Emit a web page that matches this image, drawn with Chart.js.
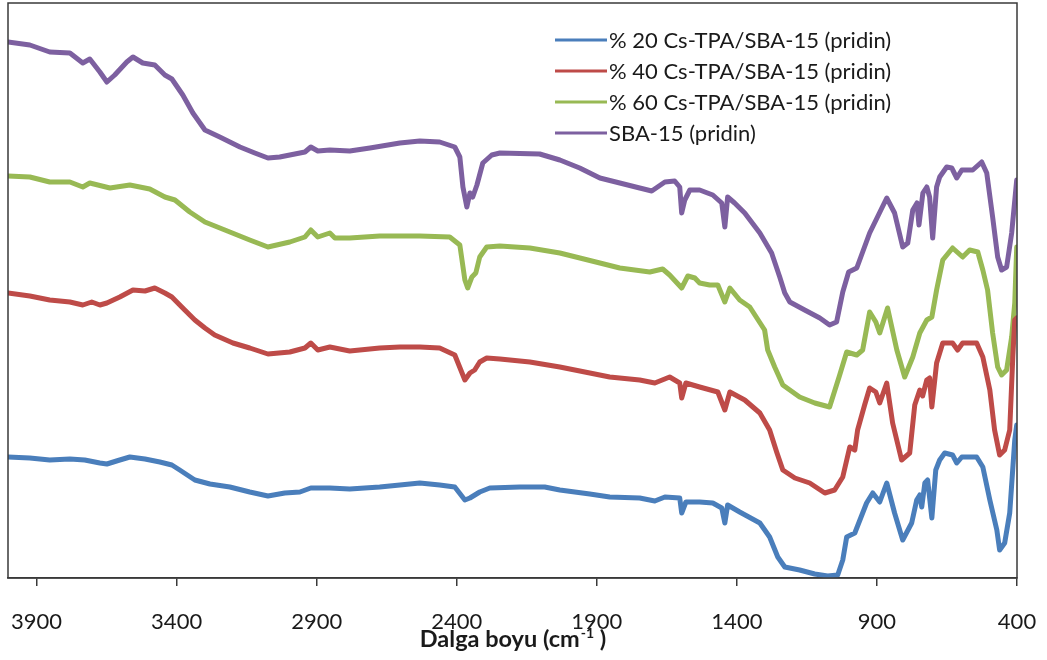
<!DOCTYPE html>
<html>
<head>
<meta charset="utf-8">
<script src="https://cdn.jsdelivr.net/npm/chart.js@4"></script>
<style>
  html, body { margin: 0; padding: 0; background: #fff; }
</style>
</head>
<body>
<canvas id="ftir" width="1047" height="660"></canvas>
<script>
// wavenumber (cm-1) ticks along the reversed x axis
const xTicks = [3900, 3400, 2900, 2400, 1900, 1400, 900, 400];

const seriesLabels = [
  '% 20 Cs-TPA/SBA-15 (pridin)',
  '% 40 Cs-TPA/SBA-15 (pridin)',
  '% 60 Cs-TPA/SBA-15 (pridin)',
  'SBA-15 (pridin)'
];
const seriesColors = ['#4A7EBB', '#BE4B48', '#98B954', '#7D60A0'];

// [wavenumber, transmittance (a.u., stacked)]
const cs20 = [[4002,24.2],[3924,24.0],[3853,23.6],[3781,23.8],[3728,23.6],[3674,23.0],[3649,22.8],[3603,23.6],[3567,24.2],[3513,23.8],[3460,23.2],[3417,22.6],[3389,21.6],[3335,19.6],[3281,18.8],[3210,18.2],[3139,17.2],[3074,16.4],[3014,17.0],[2960,17.2],[2921,18.0],[2853,18.0],[2782,17.8],[2675,18.2],[2603,18.6],[2532,19.0],[2461,18.6],[2407,18.2],[2371,15.6],[2353,16.0],[2318,17.2],[2282,18.0],[2175,18.2],[2086,18.2],[2032,17.6],[1925,16.8],[1854,16.2],[1747,16.0],[1693,15.4],[1657,16.2],[1604,16.0],[1597,13.0],[1582,15.2],[1533,15.2],[1486,15.0],[1454,14.0],[1443,11.0],[1433,14.6],[1390,13.2],[1318,11.0],[1283,8.2],[1254,4.2],[1229,2.2],[1176,1.6],[1122,0.8],[1076,0.4],[1040,0.6],[1022,3.6],[1008,8.2],[979,9.0],[937,15.0],[915,17.0],[890,15.2],[865,19.0],[837,13.0],[808,7.6],[776,11.0],[758,15.6],[747,16.6],[740,14.2],[729,19.0],[719,19.6],[704,12.0],[690,21.6],[676,23.6],[658,25.0],[630,24.6],[615,23.0],[597,24.2],[544,24.2],[522,22.2],[497,15.6],[472,9.6],[462,5.6],[444,7.0],[426,13.0],[408,27.6],[401,30.6]];

const cs40 = [[4002,57.0],[3924,56.4],[3853,55.6],[3781,55.2],[3735,54.6],[3703,55.2],[3674,54.6],[3649,55.0],[3603,56.2],[3556,57.6],[3513,57.4],[3478,58.0],[3442,57.0],[3417,56.2],[3371,53.6],[3335,51.6],[3299,50.0],[3264,48.6],[3199,47.0],[3139,46.0],[3074,44.8],[2996,45.2],[2942,46.0],[2921,47.0],[2896,45.6],[2853,46.2],[2782,45.4],[2675,46.0],[2603,46.2],[2532,46.2],[2461,46.0],[2407,44.6],[2371,39.6],[2353,41.0],[2336,41.6],[2318,43.2],[2293,44.0],[2246,43.8],[2139,43.2],[2032,42.2],[1925,41.0],[1854,40.2],[1747,39.6],[1693,39.0],[1640,40.2],[1604,39.0],[1597,36.0],[1582,39.0],[1533,38.2],[1468,37.2],[1443,33.6],[1425,37.2],[1372,35.6],[1318,33.0],[1283,29.6],[1258,25.2],[1236,21.6],[1193,20.0],[1140,19.0],[1086,17.0],[1051,17.6],[1022,20.2],[997,26.2],[979,25.6],[969,29.6],[944,34.6],[926,38.0],[904,37.2],[890,35.0],[865,39.0],[844,31.0],[812,23.6],[783,25.0],[765,34.6],[747,37.6],[737,36.4],[722,39.6],[712,40.0],[704,34.2],[687,43.0],[665,47.0],[630,47.0],[612,45.6],[594,47.0],[544,47.0],[522,44.2],[497,37.6],[480,29.6],[462,24.6],[444,25.6],[426,29.6],[415,44.2],[408,51.6],[401,52.0]];

const cs60 = [[4002,80.4],[3924,80.2],[3853,79.2],[3781,79.2],[3735,78.2],[3710,79.0],[3638,78.0],[3567,78.6],[3496,77.8],[3442,76.2],[3406,75.6],[3353,73.2],[3299,71.2],[3210,69.2],[3139,67.6],[3074,66.2],[2996,67.2],[2942,68.2],[2921,69.6],[2896,68.2],[2853,69.0],[2835,68.0],[2782,68.0],[2675,68.4],[2532,68.4],[2425,68.2],[2389,66.6],[2371,59.6],[2361,58.0],[2346,60.2],[2332,61.0],[2318,64.2],[2293,66.2],[2246,66.4],[2139,66.0],[2032,65.0],[1889,63.0],[1818,62.0],[1711,61.2],[1665,61.8],[1640,60.6],[1597,58.0],[1575,60.4],[1550,60.0],[1533,59.0],[1497,58.6],[1468,58.6],[1443,55.2],[1425,58.0],[1390,55.6],[1354,54.2],[1301,49.6],[1290,45.6],[1265,42.2],[1236,38.6],[1176,36.2],[1122,35.0],[1069,34.2],[1033,40.6],[1008,45.2],[972,44.6],[951,45.6],[926,53.2],[904,51.2],[890,49.0],[862,54.0],[829,45.6],[801,40.2],[772,44.2],[747,49.0],[722,51.6],[704,52.2],[687,57.6],[665,63.6],[630,66.0],[594,64.2],[569,65.6],[540,65.2],[522,61.6],[505,57.6],[487,49.0],[469,42.2],[455,40.6],[437,41.6],[419,48.2],[408,55.0],[401,66.2]];

const sba15 = [[4002,107.2],[3924,106.6],[3853,105.2],[3781,105.0],[3735,103.0],[3710,103.8],[3674,101.2],[3649,99.2],[3621,100.6],[3578,103.2],[3556,104.2],[3521,103.0],[3478,102.6],[3442,100.6],[3417,99.8],[3378,96.6],[3342,93.0],[3299,89.6],[3246,88.2],[3174,86.2],[3121,85.0],[3074,84.0],[3032,84.2],[2978,84.8],[2942,85.2],[2921,86.2],[2896,85.4],[2853,85.6],[2782,85.4],[2710,86.0],[2603,87.0],[2532,87.4],[2461,87.2],[2407,86.2],[2389,84.2],[2378,78.2],[2364,74.2],[2353,77.0],[2343,76.2],[2328,78.6],[2307,83.0],[2275,84.6],[2246,85.0],[2104,84.8],[2032,83.6],[1961,82.0],[1889,80.0],[1818,79.0],[1747,78.0],[1704,77.4],[1657,79.2],[1622,79.4],[1604,78.2],[1597,73.0],[1586,75.6],[1568,77.6],[1533,77.6],[1486,76.6],[1454,75.0],[1443,70.2],[1433,76.2],[1408,75.0],[1372,73.0],[1318,69.0],[1276,65.0],[1247,60.2],[1229,57.0],[1211,55.2],[1158,53.6],[1104,52.0],[1069,50.6],[1044,51.2],[1022,57.2],[1001,61.2],[972,62.0],[926,69.0],[865,76.0],[837,73.0],[808,66.2],[790,67.0],[772,73.6],[757,75.0],[750,70.6],[736,77.0],[722,78.2],[712,76.2],[701,68.0],[687,78.2],[676,80.2],[651,82.2],[633,82.0],[615,80.0],[597,81.6],[558,81.6],[526,83.2],[508,81.0],[487,72.2],[469,64.2],[455,61.6],[437,62.2],[419,69.0],[401,79.6]];

const spectra = [cs20, cs40, cs60, sba15];

// box round the plot area
const frame = {
  id: 'frame',
  afterDatasetsDraw(chart) {
    const {ctx, chartArea: a} = chart;
    ctx.save();
    ctx.strokeStyle = '#3a3a3a';
    ctx.lineWidth = 1.5;
    ctx.strokeRect(a.left, a.top, a.right - a.left, a.bottom - a.top);
    ctx.restore();
  }
};

// legend drawn inside the plot, upper right
const innerLegend = {
  id: 'innerLegend',
  afterDraw(chart) {
    const ctx = chart.ctx;
    ctx.save();
    ctx.font = '22px Lato';
    ctx.textBaseline = 'middle';
    chart.data.datasets.forEach((ds, i) => {
      const y = 40 + i * 31;
      ctx.strokeStyle = ds.borderColor;
      ctx.lineWidth = 3;
      ctx.beginPath();
      ctx.moveTo(555, y);
      ctx.lineTo(607, y);
      ctx.stroke();
      ctx.fillStyle = '#1a1a1a';
      ctx.fillText(ds.label, 609, y + 1);
    });
    ctx.restore();
  }
};

// x axis title with a proper superscript on cm-1
const axisTitle = {
  id: 'axisTitle',
  afterDraw(chart) {
    const ctx = chart.ctx;
    const a = chart.chartArea;
    const main = 'Dalga boyu (cm', sup = '-1', tail = ' )';
    ctx.save();
    ctx.fillStyle = '#1a1a1a';
    ctx.textBaseline = 'alphabetic';
    ctx.font = 'bold 23.5px Lato';
    const wMain = ctx.measureText(main).width;
    const wTail = ctx.measureText(tail).width;
    ctx.font = 'bold 14px Lato';
    const wSup = ctx.measureText(sup).width;
    let x = (a.left + a.right) / 2 - (wMain + wSup + wTail) / 2;
    const base = 647;
    ctx.font = 'bold 23.5px Lato';
    ctx.fillText(main, x, base);
    x += wMain + 1;
    ctx.font = 'bold 14px Lato';
    ctx.fillText(sup, x, base - 9);
    x += wSup;
    ctx.font = 'bold 23.5px Lato';
    ctx.fillText(tail, x, base);
    ctx.restore();
  }
};

window.onload = function(){

  let myChart = new Chart(
    document.getElementById('ftir'),
    {
      type: 'line',
      data: {
        datasets: spectra.map((s, i) => ({
          label: seriesLabels[i],
          data: s.map(p => ({x: p[0], y: p[1]})),
          borderColor: seriesColors[i],
          backgroundColor: seriesColors[i],
          borderWidth: 5,
          borderJoinStyle: 'round',
          borderCapStyle: 'round',
          pointRadius: 0,
          tension: 0
        }))
      },
      plugins: [frame, innerLegend, axisTitle],
      options: {
        responsive: false,
        animation: false,
        layout: { padding: { left: 8, right: 30, top: 3, bottom: 0 } },
        plugins: {
          legend: { display: false },
          tooltip: { enabled: false }
        },
        scales: {
          x: {
            type: 'linear',
            reverse: true,
            min: 400,
            max: 4002,
            afterBuildTicks(scale) { scale.ticks = xTicks.map(v => ({value: v})); },
            afterFit(scale) {
              scale.height = 82;
              scale.paddingLeft = 0;
              scale.paddingRight = 0;
            },
            ticks: {
              autoSkip: false,
              maxRotation: 0,
              padding: 23,
              color: '#1a1a1a',
              font: { family: 'Lato', size: 22 },
              callback: v => String(v)
            },
            grid: {
              drawOnChartArea: false,
              tickLength: 8,
              color: '#3a3a3a',
              lineWidth: 1.5
            },
            border: { display: true, color: '#3a3a3a', width: 1.5 },
            title: { display: false }
          },
          y: {
            display: false,
            min: 0,
            max: 115
          }
        }
      }
    }
  );
}
</script>
</body>
</html>
